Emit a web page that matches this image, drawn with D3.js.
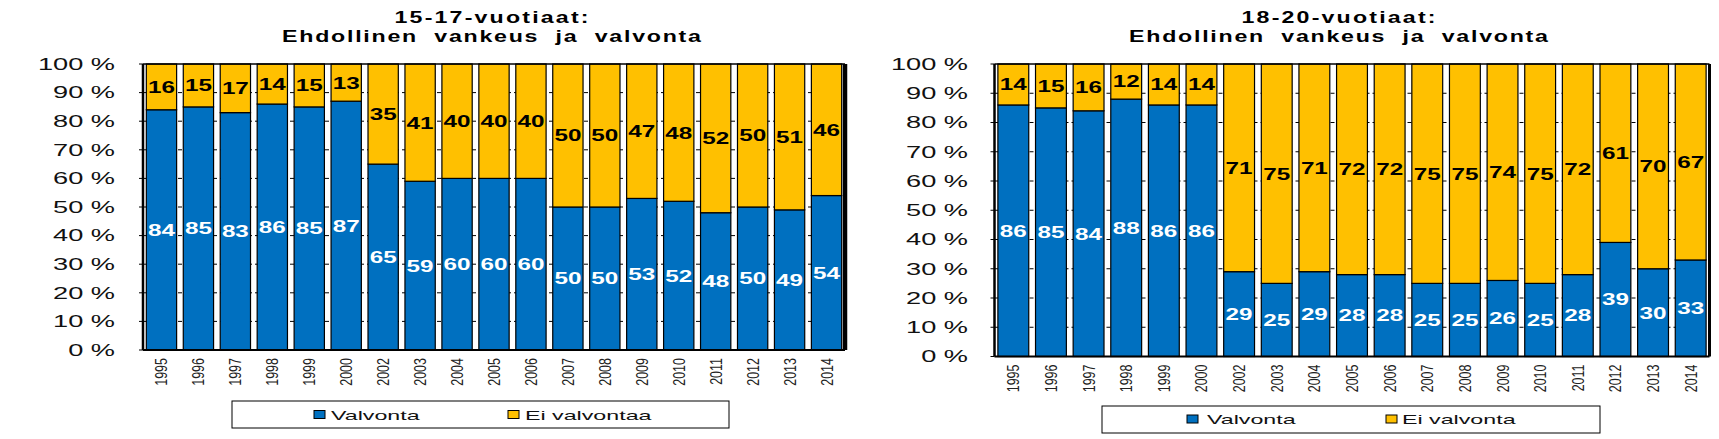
<!DOCTYPE html>
<html><head><meta charset="utf-8">
<script src="https://cdn.jsdelivr.net/npm/d3@7"></script>
<style>body{margin:0;background:#fff}svg{display:block}text{font-family:"Liberation Sans",Arial,sans-serif}</style>
</head><body>
<svg id="c" width="1719" height="439"></svg>
<script>
// ---- data ----
const years = ["1995","1996","1997","1998","1999","2000","2002","2003","2004","2005","2006","2007","2008","2009","2010","2011","2012","2013","2014"];
const valvonta1517   = [84,85,83,86,85,87,65,59,60,60,60,50,50,53,52,48,50,49,54];
const eiValvonta1517 = [16,15,17,14,15,13,35,41,40,40,40,50,50,47,48,52,50,51,46];
const valvonta1820   = [86,85,84,88,86,86,29,25,29,28,28,25,25,26,25,28,39,30,33];
const eiValvonta1820 = [14,15,16,12,14,14,71,75,71,72,72,75,75,74,75,72,61,70,67];
const yTicks = [0,10,20,30,40,50,60,70,80,90,100];
const title1517 = ["15-17-vuotiaat:", "Ehdollinen  vankeus  ja  valvonta"];
const title1820 = ["18-20-vuotiaat:", "Ehdollinen  vankeus  ja  valvonta"];
const legend1517 = ["Valvonta", "Ei valvontaa"];
const legend1820 = ["Valvonta", "Ei valvonta"];

const BLUE = "#0070C0", YELLOW = "#FFC000";
const svg = d3.select("#c");

function stext(parent, x, y, str, o) {
  const g = parent.append("g")
    .attr("transform", `translate(${x},${y}) scale(${o.sx||1},1)` + (o.rot ? ` rotate(${o.rot})` : ""));
  const t = g.append("text")
    .attr("text-anchor", o.anchor || "start")
    .attr("dy", o.dy || 0)
    .attr("font-size", o.size)
    .attr("font-weight", o.weight || "normal")
    .attr("fill", o.fill || "#000")
    .style("white-space", "pre")
    .text(str);
  if (o.ls) { t.attr("letter-spacing", o.ls); t.attr("dx", o.anchor === "middle" ? o.ls / 2 : 0); }
  return t;
}

function panel(cfg) {
  const g = svg.append("g");
  const y = d3.scaleLinear().domain([0, 100]).range([cfg.y1, cfg.y0]);
  const x = d3.scaleBand().domain(years).range([cfg.x0, cfg.x1]).paddingInner(0.18).paddingOuter(0.09);

  // title
  stext(g, cfg.titleCx, 23.3, cfg.title[0], {size: 16, weight: "bold", anchor: "middle", sx: 1.45, ls: 1.5});
  stext(g, cfg.titleCx, 41.7, cfg.title[1], {size: 16, weight: "bold", anchor: "middle", sx: 1.45, ls: 1.2});

  // gridlines
  g.append("g").selectAll("line").data(yTicks.filter(t => t > 0 && t < 100)).join("line")
    .attr("x1", cfg.x0).attr("x2", cfg.x1)
    .attr("y1", d => y(d)).attr("y2", d => y(d))
    .attr("stroke", "#000").attr("stroke-width", 1).attr("stroke-dasharray", "4,3");

  // y tick marks + labels
  g.append("g").selectAll("line").data(yTicks).join("line")
    .attr("x1", cfg.x0 - 4).attr("x2", cfg.x0)
    .attr("y1", d => y(d)).attr("y2", d => y(d))
    .attr("stroke", "#000").attr("stroke-width", 1);
  yTicks.forEach(t => stext(g, cfg.tickEnd, y(t), t + " %", {size: 16, anchor: "end", dy: "0.36em", sx: 1.7, fill: "#111"}));

  // stacked bars
  const rows = years.map((yr, i) => ({year: yr, v: cfg.v[i], e: cfg.e[i]}));
  const series = d3.stack().keys(["v", "e"])(rows);
  const colors = {v: BLUE, e: YELLOW};
  const labelFill = {v: "#fff", e: "#000"};
  series.forEach(s => {
    g.append("g").selectAll("rect").data(s).join("rect")
      .attr("x", d => x(d.data.year)).attr("width", x.bandwidth())
      .attr("y", d => y(d[1])).attr("height", d => y(d[0]) - y(d[1]))
      .attr("fill", colors[s.key]).attr("stroke", "#000").attr("stroke-width", 1.2);
  });
  series.forEach(s => {
    s.forEach(d => {
      stext(g, x(d.data.year) + x.bandwidth() / 2, y((d[0] + d[1]) / 2), String(Math.round(d[1] - d[0])),
        {size: 16.5, weight: "bold", anchor: "middle", dy: "0.36em", sx: 1.47, fill: labelFill[s.key]});
    });
  });

  // frame
  g.append("line").attr("x1", cfg.x0).attr("x2", cfg.x1).attr("y1", cfg.y0).attr("y2", cfg.y0).attr("stroke", "#000").attr("stroke-width", 1.5);
  g.append("line").attr("x1", cfg.x0).attr("x2", cfg.x1).attr("y1", cfg.y1).attr("y2", cfg.y1).attr("stroke", "#000").attr("stroke-width", 2);
  g.append("line").attr("x1", cfg.x0).attr("x2", cfg.x0).attr("y1", cfg.y0).attr("y2", cfg.y1).attr("stroke", "#000").attr("stroke-width", 2.5);
  g.append("line").attr("x1", cfg.x1).attr("x2", cfg.x1).attr("y1", cfg.y0).attr("y2", cfg.y1).attr("stroke", "#000").attr("stroke-width", cfg.rightW);

  // x labels
  years.forEach(yr => stext(g, x(yr) + x.bandwidth() / 2, cfg.y1 + 8, yr,
    {size: 12.5, anchor: "end", dy: "0.36em", rot: -90, sx: 1.33, fill: "#222"}));

  // legend
  const L = cfg.legend;
  g.append("rect").attr("x", L.x).attr("y", L.y).attr("width", L.w).attr("height", L.h)
    .attr("fill", "#fff").attr("stroke", "#000").attr("stroke-width", 1);
  [BLUE, YELLOW].forEach((c, i) => {
    g.append("rect").attr("x", L.sw[i]).attr("y", L.base - 9).attr("width", 11).attr("height", 8)
      .attr("fill", c).attr("stroke", "#000").attr("stroke-width", 1);
    stext(g, L.tx[i], L.base, cfg.legendText[i], {size: 13.5, sx: 1.72, fill: "#111"});
  });
}

panel({x0: 143, x1: 845, y0: 64, y1: 350, tickEnd: 115, titleCx: 491.5, rightW: 4.5,
  v: valvonta1517, e: eiValvonta1517, title: title1517, legendText: legend1517,
  legend: {x: 232, y: 401, w: 497, h: 27, base: 419.5, sw: [314, 508], tx: [331, 525]}});
panel({x0: 994.5, x1: 1709.5, y0: 64, y1: 356.5, tickEnd: 968, titleCx: 1338.5, rightW: 3,
  v: valvonta1820, e: eiValvonta1820, title: title1820, legendText: legend1820,
  legend: {x: 1102, y: 406, w: 498, h: 27, base: 424, sw: [1187, 1386], tx: [1207, 1402]}});
</script>
</body></html>
